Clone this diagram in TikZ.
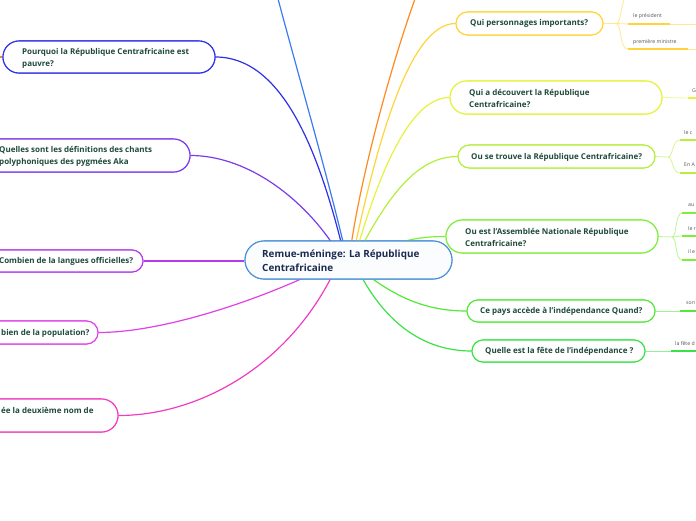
\documentclass[tikz,border=0pt]{standalone}
\usepackage{fontspec}
\setmainfont{Open Sans}
\definecolor{tg}{HTML}{1F4A3A}
\definecolor{cnav}{HTML}{1B2A4E}
\definecolor{ccen}{HTML}{4A90D9}
\definecolor{ctop}{HTML}{3B7BF0}
\definecolor{cpq}{HTML}{2F2FE8}
\definecolor{cqs}{HTML}{7B3BEB}
\definecolor{ccl}{HTML}{B23BEB}
\definecolor{cpop}{HTML}{E040E8}
\definecolor{cdx}{HTML}{F03CC0}
\definecolor{cor}{HTML}{FF8A1E}
\definecolor{cqp}{HTML}{FFD43B}
\definecolor{cqd}{HTML}{E6F23B}
\definecolor{cqt}{HTML}{B5EE3B}
\definecolor{cqa}{HTML}{7EEE3B}
\definecolor{cqc}{HTML}{55E83B}
\definecolor{cqf}{HTML}{3AE248}
\definecolor{csub}{HTML}{555555}
\tikzset{
  qbox/.style={draw=#1, line width=1.1pt, fill=white, inner sep=0pt},
  qtext/.style={inner sep=0pt, align=left, text=tg, font=\bfseries\fontsize{8}{12}\selectfont, anchor=west},
  ctext/.style={inner sep=0pt, align=left, text=cnav, font=\bfseries\fontsize{9.9}{14.2}\selectfont, anchor=west},
  stext/.style={inner sep=0pt, text=csub, font=\fontsize{5.2}{6}\selectfont, anchor=west},
  link/.style={draw=#1, line width=1.2pt},
  sublink/.style={draw=#1!55, line width=0.8pt},
  thick line/.style={draw=#1, line width=1.8pt},
}
\begin{document}
\begin{tikzpicture}[x=1pt,y=-1pt]
\useasboundingbox (0,0) rectangle (696,520);
\clip (0,0) rectangle (696,520);

% attach points on the central topic
\coordinate (aTop) at (344,246);
\coordinate (aPq) at (342,246);
\coordinate (aQs) at (334,246);
\coordinate (aOr) at (351,246);
\coordinate (aQp) at (355,246);
\coordinate (aQd) at (358,246);
\coordinate (aQt) at (362,246);
\coordinate (aQa) at (385,248);
\coordinate (aQc) at (366,274);
\coordinate (aQf) at (360,274);
\coordinate (aPop) at (312,274);
\coordinate (aDx) at (333,274);
\coordinate (eTop) at (273,-20);
\coordinate (eOr) at (422,-20);

% boxes (placed first so connectors can use their anchors; redrawn on top later)
\node[qbox=ccen, fill=ccen!3, minimum width=207, minimum height=38, rounded corners=19] (cen) at (348.5,260) {};
\node[qbox=cqp, minimum width=147, minimum height=23, rounded corners=11.5] (qp) at (529.5,23.5) {};
\node[qbox=cqd, minimum width=212, minimum height=33, rounded corners=16.5] (qd) at (556,97.5) {};
\node[qbox=cqt, minimum width=197, minimum height=23, rounded corners=11.5] (qt) at (556.5,156.5) {};
\node[qbox=cqa, minimum width=212, minimum height=33, rounded corners=16.5] (qa) at (552,236.5) {};
\node[qbox=cqc, minimum width=188, minimum height=22, rounded corners=11] (qc) at (561,311) {};
\node[qbox=cqf, minimum width=173, minimum height=22, rounded corners=11] (qf) at (558.5,351) {};
\node[qbox=cpq, minimum width=212, minimum height=32, rounded corners=16] (pq) at (109,57) {};
\node[qbox=cqs, minimum width=212, minimum height=33, rounded corners=16.5] (qs) at (84,155.5) {};
\node[qbox=ccl, minimum width=163, minimum height=22, rounded corners=11] (cl) at (61.5,261) {};
\node[qbox=cpop, minimum width=158, minimum height=23, rounded corners=11.5] (pop) at (19,332.5) {};
\node[qbox=cdx, minimum width=238, minimum height=33, rounded corners=16.5] (dx) at (-1,415.5) {};

% main connectors
\draw[link=ctop] (aTop) .. controls (326,170) and (294,60) .. (eTop);
\draw[link=cor] (aOr) .. controls (362,170) and (395,50) .. (eOr);
\draw[link=cpq] (aPq) .. controls (318,150) and (282,57) .. (pq.east);
\draw[link=cqs] (aQs) .. controls (300,195) and (245,155.5) .. (qs.east);
\draw[link=ccl] (cl.east) -- (cen.west |- cl.east);
\draw[link=cpop] (aPop) .. controls (250,303) and (160,332.5) .. (pop.east);
\draw[link=cdx] (aDx) .. controls (285,370) and (195,415.5) .. (dx.east);
\draw[link=cqp] (aQp) .. controls (378,140) and (410,23.5) .. (qp.west);
\draw[link=cqd] (aQd) .. controls (382,165) and (412,97.5) .. (qd.west);
\draw[link=cqt] (aQt) .. controls (392,190) and (420,156.5) .. (qt.west);
\draw[link=cqa] (aQa) .. controls (405,240) and (420,236.5) .. (qa.west);
\draw[link=cqc] (aQc) .. controls (400,300) and (430,311) .. (qc.west);
\draw[link=cqf] (aQf) .. controls (390,330) and (430,351) .. (qf.west);
\coordinate (eStub) at (-6,57);
\draw[link=cor] (eStub) -- (pq.west);

% redraw boxes above connectors
\node[qbox=ccen, fill=ccen!3, minimum width=207, minimum height=38, rounded corners=19] at (cen) {};
\node[qbox=cqp, minimum width=147, minimum height=23, rounded corners=11.5] at (qp) {};
\node[qbox=cqd, minimum width=212, minimum height=33, rounded corners=16.5] at (qd) {};
\node[qbox=cqt, minimum width=197, minimum height=23, rounded corners=11.5] at (qt) {};
\node[qbox=cqa, minimum width=212, minimum height=33, rounded corners=16.5] at (qa) {};
\node[qbox=cqc, minimum width=188, minimum height=22, rounded corners=11] at (qc) {};
\node[qbox=cqf, minimum width=173, minimum height=22, rounded corners=11] at (qf) {};
\node[qbox=cpq, minimum width=212, minimum height=32, rounded corners=16] at (pq) {};
\node[qbox=cqs, minimum width=212, minimum height=33, rounded corners=16.5] at (qs) {};
\node[qbox=ccl, minimum width=163, minimum height=22, rounded corners=11] at (cl) {};
\node[qbox=cpop, minimum width=158, minimum height=23, rounded corners=11.5] at (pop) {};
\node[qbox=cdx, minimum width=238, minimum height=33, rounded corners=16.5] at (dx) {};

% texts
\node[ctext] (cent) at (262,260.5) {Remue-méninge: La République\\Centrafricaine};
\node[qtext] (qpt) at (470,23.5) {Qui personnages importants?};
\node[qtext] (qdt) at (469,98) {Qui a découvert la République\\Centrafricaine?};
\node[qtext] (qtt) at (471,157) {Ou se trouve la République Centrafricaine?};
\node[qtext] (qat) at (465,237) {Ou est l'Assemblée Nationale République\\Centrafricaine?};
\node[qtext] (qct) at (480,311.5) {Ce pays accède à l'indépendance Quand?};
\node[qtext] (qft) at (485,351.5) {Quelle est la fête de l'indépendance ?};
\node[qtext] (pqt) at (22,58) {Pourquoi la République Centrafricaine est\\pauvre?};
\node[qtext] (qst) at (-1,156) {Quelles sont les définitions des chants\\polyphoniques des pygmées Aka};
\node[qtext] (clt) at (-1,261.5) {Combien de la langues officielles?};
\node[qtext] (popt) at (1,333) {bien de la population?};
\node[qtext] (dxt) at (1,410) {ée la deuxième nom de};

% children of "Qui personnages importants?"
\coordinate (bQp) at (616,23.5);
\coordinate (uP0) at (630,-10);
\coordinate (uP1) at (628,24);
\coordinate (uP1b) at (670,24);
\coordinate (uP1c) at (700,24);
\coordinate (uP2) at (628,49);
\coordinate (uP2b) at (688,49);
\coordinate (uP2c) at (700,49);
\draw[sublink=cqp] (qp.east) -- (bQp);
\draw[sublink=cqp] (bQp) .. controls (622,23.5) and (620,-2) .. (uP0);
\draw[sublink=cqp] (bQp) -- (uP1);
\draw[sublink=cqp] (bQp) .. controls (622,23.5) and (619,49) .. (uP2);
\draw[thick line=cqp] (uP1) -- (uP1b);
\draw[sublink=cqp] (uP1b) -- (uP1c);
\draw[thick line=cqp] (uP2) -- (uP2b);
\draw[sublink=cqp] (uP2b) -- (uP2c);
\node[stext] (s1) at (633,16.5) {le président};
\node[stext] (s2) at (633,42) {première ministre};

% child of "Qui a découvert"
\coordinate (uD1) at (688,98);
\coordinate (uD1b) at (700,98);
\draw[sublink=cqd] (qd.east) -- (uD1);
\draw[thick line=cqd] (uD1) -- (uD1b);
\node[stext] (s3) at (692,90.5) {G};

% children of "Ou se trouve"
\coordinate (bQt) at (668,157);
\coordinate (uT1) at (680,140);
\coordinate (uT2) at (680,173);
\coordinate (uT1b) at (700,140);
\coordinate (uT2b) at (700,173);
\draw[sublink=cqt] (qt.east) -- (bQt);
\draw[sublink=cqt] (bQt) .. controls (673,157) and (672,140) .. (uT1);
\draw[sublink=cqt] (bQt) .. controls (673,157) and (672,173) .. (uT2);
\draw[thick line=cqt] (uT1) -- (uT1b);
\draw[thick line=cqt] (uT2) -- (uT2b);
\node[stext] (s4) at (684,132.5) {le c};
\node[stext] (s5) at (684,165) {En A};

% children of "Ou est l'Assemblée"
\coordinate (bQa) at (672,237);
\coordinate (uA1) at (682,213);
\coordinate (uA2) at (682,236);
\coordinate (uA3) at (682,260);
\coordinate (uA1b) at (700,213);
\coordinate (uA2b) at (700,236);
\coordinate (uA3b) at (700,260);
\draw[sublink=cqa] (qa.east) -- (bQa);
\draw[sublink=cqa] (bQa) .. controls (677,237) and (675,213) .. (uA1);
\draw[sublink=cqa] (bQa) -- (uA2);
\draw[sublink=cqa] (bQa) .. controls (677,237) and (675,260) .. (uA3);
\draw[thick line=cqa] (uA1) -- (uA1b);
\draw[thick line=cqa] (uA2) -- (uA2b);
\draw[thick line=cqa] (uA3) -- (uA3b);
\node[stext] (s6) at (688,205.5) {au};
\node[stext] (s7) at (688,228.5) {le r};
\node[stext] (s8) at (688,252) {il e};

% child of "Ce pays"
\coordinate (uC1) at (680,311);
\coordinate (uC1b) at (700,311);
\draw[sublink=cqc] (qc.east) -- (uC1);
\draw[thick line=cqc] (uC1) -- (uC1b);
\node[stext] (s9) at (686,303.5) {son};

% child of "Quelle est la fête"
\coordinate (uF1) at (671,351);
\coordinate (uF1b) at (700,351);
\draw[sublink=cqf] (qf.east) -- (uF1);
\draw[thick line=cqf] (uF1) -- (uF1b);
\node[stext] (s10) at (675,343.5) {la fête d};
\end{tikzpicture}
\end{document}
